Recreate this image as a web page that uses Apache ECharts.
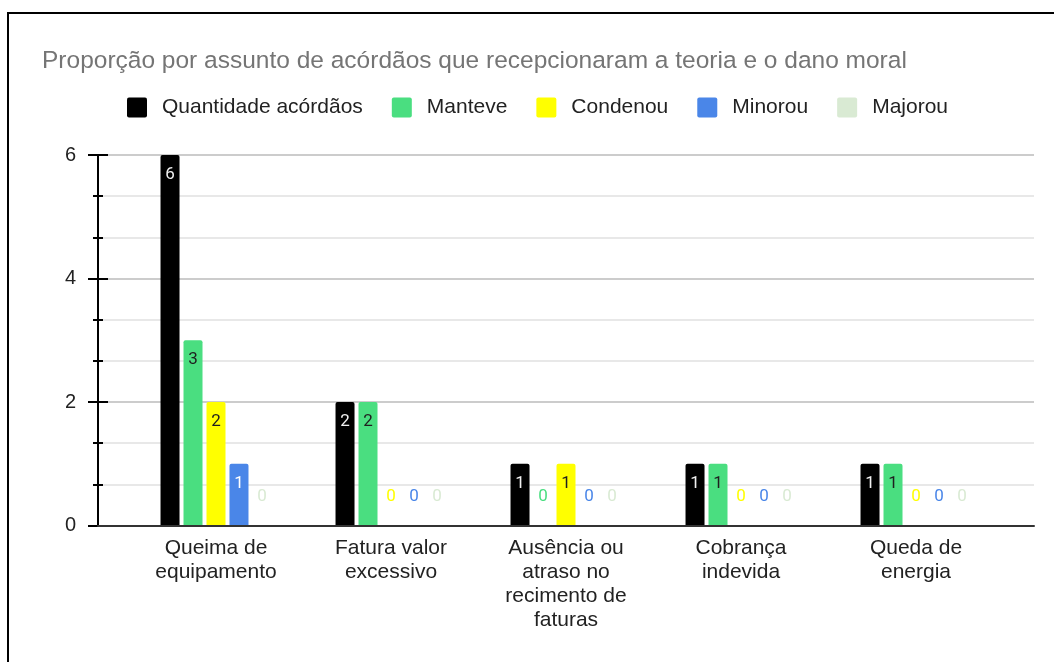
<!DOCTYPE html>
<html>
<head>
<meta charset="utf-8">
<script src="https://cdn.jsdelivr.net/npm/echarts@6/dist/echarts.min.js"></script>
<style>
html,body{margin:0;padding:0;background:#fff;}
#wrap{position:relative;width:1054px;height:662px;overflow:hidden;}
#chart{width:1054px;height:662px;}
#frame{position:absolute;left:7px;top:12px;width:1200px;height:800px;border-top:2px solid #000;border-left:2px solid #000;pointer-events:none;}
</style>
</head>
<body>
<div id="wrap"><div id="chart"></div><div id="frame"></div></div>
<script>
const titleText = 'Proporção por assunto de acórdãos que recepcionaram a teoria e o dano moral';
const categories = ['Queima de\nequipamento', 'Fatura valor\nexcessivo', 'Ausência ou\natraso no\nrecimento de\nfaturas', 'Cobrança\nindevida', 'Queda de\nenergia'];
const seriesNames = ['Quantidade acórdãos', 'Manteve', 'Condenou', 'Minorou', 'Majorou'];
const quantidade = [6, 2, 1, 1, 1];
const manteve = [3, 2, 0, 1, 1];
const condenou = [2, 0, 1, 0, 0];
const minorou = [1, 0, 0, 0, 0];
const majorou = [0, 0, 0, 0, 0];
const yMin = 0, yMax = 6, yStep = 2;

const colors = ['#000000', '#4ade80', '#ffff00', '#4a86e8', '#d9ead3'];
const insideLabelColors = ['#f0f0f0', '#1f1f1f', '#1f1f1f', '#ffffff', '#1f1f1f'];
const allValues = [quantidade, manteve, condenou, minorou, majorou];

const chart = echarts.init(document.getElementById('chart'), null, {renderer: 'canvas'});
const iconPath = 'path://M2,0H18A2,2,0,0,1,20,2V18A2,2,0,0,1,18,20H2A2,2,0,0,1,0,18V2A2,2,0,0,1,2,0Z';

const series = allValues.map((arr, i) => ({
  type: 'bar',
  name: seriesNames[i],
  xAxisIndex: 1,
  yAxisIndex: 2,
  barWidth: 19,
  barGap: '21%',
  itemStyle: {color: colors[i], borderRadius: [2, 2, 0, 0]},
  label: {
    show: true, position: 'insideTop', distance: 11,
    color: insideLabelColors[i], fontFamily: 'Roboto', fontSize: 17
  },
  data: arr.map(v => v === 0
    ? {value: v, label: {position: 'top', distance: 20, color: colors[i]}}
    : v)
}));

chart.setOption({
  animation: false,
  backgroundColor: '#ffffff',
  title: {
    text: titleText,
    left: 42, top: 49, padding: 0,
    textStyle: {color: '#757575', fontSize: 24.5, fontWeight: 'normal', fontFamily: 'Liberation Sans'}
  },
  legend: {
    left: 127, top: 97, padding: 0,
    itemWidth: 20, itemHeight: 20, itemGap: 29,
    icon: iconPath,
    data: seriesNames,
    textStyle: {color: '#222222', fontSize: 21, fontFamily: 'Liberation Sans', padding: [0, 0, 0, 10]}
  },
  grid: [
    {left: 98, right: 20, top: 155, bottom: 136.5},
    {left: 128.5, right: 50.5, top: 155, bottom: 136.5}
  ],
  xAxis: [
    {
      type: 'value', gridIndex: 0, min: 0, max: 1, z: 5,
      axisLine: {show: true, onZero: false, lineStyle: {color: '#333333', width: 2}},
      axisTick: {show: false}, axisLabel: {show: false}, splitLine: {show: false}
    },
    {
      type: 'category', gridIndex: 1, data: categories,
      axisLine: {show: false}, axisTick: {show: false}, splitLine: {show: false},
      axisLabel: {interval: 0, color: '#222222', fontSize: 21, fontFamily: 'Liberation Sans', lineHeight: 24, margin: 11}
    }
  ],
  yAxis: [
    {
      type: 'value', gridIndex: 0, position: 'left', min: yMin, max: yMax, interval: yStep,
      axisLine: {show: true, onZero: false, lineStyle: {color: '#000000', width: 2}},
      axisTick: {show: true, length: 10, lineStyle: {color: '#000000', width: 2}},
      minorTick: {show: true, splitNumber: 3, length: 5, lineStyle: {color: '#000000', width: 2}},
      axisLabel: {color: '#222222', fontSize: 20, fontFamily: 'Liberation Sans', margin: 22},
      splitLine: {show: true, lineStyle: {color: '#cccccc', width: 2}},
      minorSplitLine: {show: true, lineStyle: {color: '#e8e8e8', width: 2}}
    },
    {
      type: 'value', gridIndex: 0, position: 'left', min: yMin, max: yMax, interval: yStep,
      axisLine: {show: true, onZero: false, lineStyle: {color: '#000000', width: 2}},
      axisTick: {show: true, inside: true, length: 10, lineStyle: {color: '#000000', width: 2}},
      minorTick: {show: true, splitNumber: 3, length: 5, lineStyle: {color: '#000000', width: 2}},
      axisLabel: {show: false}, splitLine: {show: false}
    },
    {type: 'value', gridIndex: 1, min: yMin, max: yMax, interval: yStep, show: false, splitLine: {show: false}}
  ],
  series: series
});
</script>
</body>
</html>
